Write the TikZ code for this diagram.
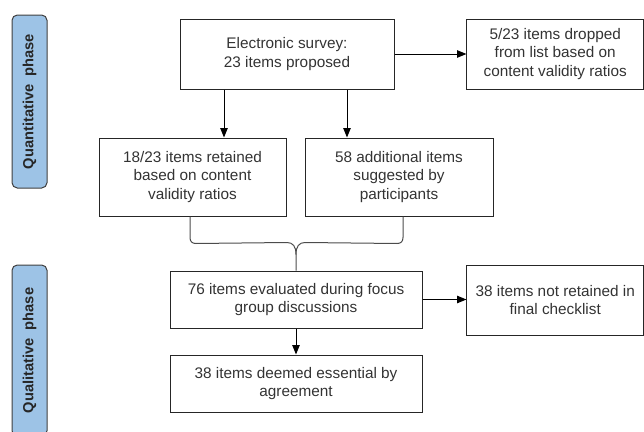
\documentclass[tikz,border=0pt]{standalone}
\usepackage{fontspec}
\setmainfont{Liberation Sans}
\usetikzlibrary{arrows.meta,calc}
\definecolor{phaseblue}{RGB}{157,195,230}
\tikzset{every picture/.style={line width=0.75pt}}
\tikzset{
  stepbox/.style={draw=black!85, text=black!80, align=center, inner sep=0pt,
    font=\fontsize{11.5}{13.6}\selectfont},
  phasebox/.style={draw=black!75, fill=phaseblue, rounded corners=4pt, rotate=90,
    inner sep=0pt, font=\fontsize{11}{13}\selectfont\bfseries, text=black!85},
  flowarrow/.style={-{Triangle[length=7pt,width=5.5pt]}, draw=black},
  braceline/.style={draw=black!70},
}

\begin{document}
\begin{tikzpicture}[x=0.75pt,y=0.75pt,yscale=-1,xscale=1]
\useasboundingbox (0,0) rectangle (644,432);
\clip (0,0) rectangle (644,432);

%Phase labels
\node (quantphase) [phasebox, minimum width=129.75pt, minimum height=26.25pt] at (29.5,101.5) {Quantitative\ \ phase};
\node (qualphase) [phasebox, minimum width=128.25pt, minimum height=26.25pt] at (29.5,350.5) {Qualitative\ \ phase};

% Text Node
\node (survey) [stepbox, minimum width=160.5pt, minimum height=52.5pt] at (287,54) {Electronic survey:\\23 items proposed};
% Text Node
\node (dropped) [stepbox, minimum width=132.4pt, minimum height=52.5pt] at (555.25,54) {5/23 items dropped\\from list based on\\content validity ratios};
% Text Node
\node (retained) [stepbox, minimum width=140.25pt, minimum height=58.5pt] at (192.5,177) {18/23 items retained\\based on content\\validity ratios};
% Text Node
\node (additional) [stepbox, minimum width=141pt, minimum height=58.5pt] at (399,177) {58 additional items\\suggested by\\participants};
% Text Node
\node (evaluated) [stepbox, minimum width=189pt, minimum height=42.75pt] at (296,299.5) {76 items evaluated during focus\\group discussions};
% Text Node
\node (notretained) [stepbox, minimum width=132.4pt, minimum height=52.5pt] at (555.25,300) {38 items not retained in\\final checklist};
% Text Node
\node (deemed) [stepbox, minimum width=189pt, minimum height=42.75pt] at (296,383.5) {38 items deemed essential by\\agreement};

% Connection
\coordinate (survleft) at ($(survey.south)+(-63,0)$);
\coordinate (survright) at ($(survey.south)+(60,0)$);
\draw[flowarrow] (survleft) -- (survleft |- retained.north);
\draw[flowarrow] (survright) -- (survright |- additional.north);
\draw[flowarrow] (survey.east) -- (dropped.west);
\draw[flowarrow] (evaluated.east) -- (evaluated.east -| notretained.west);
\draw[flowarrow] (evaluated.south) -- (deemed.north);

%Curve Lines (brace)
\draw[braceline] ($(retained.south)+(-2.5,0)$) -- ++(0,21) .. controls +(0,4) and +(-4,0) .. ++(6,6)
  -- ($(evaluated.north)+(-9,-28)$) .. controls +(6,0) and +(0,-8) .. ($(evaluated.north)+(0,-16)$) -- (evaluated.north);
\draw[braceline] ($(additional.south)+(4,0)$) -- ++(0,21) .. controls +(0,4) and +(4,0) .. ++(-6,6)
  -- ($(evaluated.north)+(9,-28)$) .. controls +(-6,0) and +(0,-8) .. ($(evaluated.north)+(0,-16)$);

\end{tikzpicture}
\end{document}
